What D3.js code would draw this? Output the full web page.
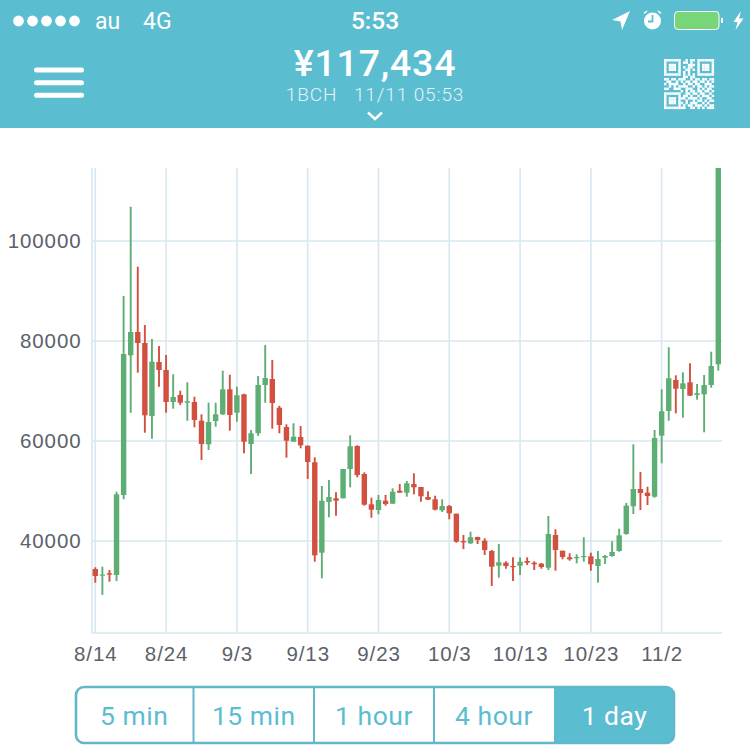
<!DOCTYPE html>
<html>
<head>
<meta charset="utf-8">
<script src="https://cdn.jsdelivr.net/npm/d3@7"></script>
<style>
  html, body { margin: 0; padding: 0; background: #fff; }
  svg { display: block; font-family: Roboto, sans-serif; }
  .axis path, .axis line { display: none; }
  .axis text { font-size: 20.5px; fill: #5b626a; letter-spacing: 0.9px; }
</style>
</head>
<body>
<svg id="chart" width="750" height="751"></svg>
<script>
// daily candles, 8/14 to 11/10
const startDay = '2017-08-14';
const endDay = '2017-11-10';

const opens = [
  34400,33100,33540,33200,49200,77140,81800,79600,65000,75800,
  74200,67800,69200,67660,67800,64060,59340,64000,65340,70340,
  65660,69340,59400,61540,71200,72400,66660,62800,59860,60800,
  59060,55740,37660,47800,48540,48540,54400,59000,53400,47340,
  46200,48060,47460,50060,49660,51400,50800,48800,48340,46140,
  47000,45460,40000,39540,40800,40060,38000,35060,35660,35000,
  35060,36000,35660,35460,34660,41200,38060,36740,36600,36800,
  36940,35000,36660,37000,38000,41400,46940,50400,49660,48860,
  61060,66000,72200,70400,71740,69200,69340,71200,75340
];
const closes = [
  33000,33300,33260,49340,77400,81800,79600,65140,75860,74200,
  67800,68800,67660,67940,64200,59400,63800,65340,70340,65200,
  69140,59860,61540,71200,72600,67600,63200,60060,60860,59140,
  55800,37140,48060,48800,48060,54400,58940,53200,47260,46260,
  48200,47400,49860,49660,51540,50740,48940,48260,46260,47000,
  45540,39860,39740,40740,40200,38200,34860,35740,35000,34900,
  35860,35660,35340,34800,41400,38200,36800,36340,36800,37000,
  35340,36400,37000,37800,41140,47060,50400,49600,49000,60600,
  65940,72540,70460,71540,69060,69540,71200,75000,117434
];
const highs = [
  34740,34860,34200,49860,89000,106860,94860,83200,80400,79000,
  77200,73340,70060,71740,68860,65340,67660,67660,74060,73260,
  70860,69460,62200,73000,79200,76200,67060,63340,63540,63000,
  59100,56740,51000,52200,49740,54400,61140,59140,53740,48660,
  49200,49200,50540,51400,52000,53540,50800,49940,49060,48340,
  47200,45460,41200,41860,40860,40540,38200,39400,35940,36740,
  36740,36740,35940,35600,45000,42340,38060,37540,37340,40740,
  37660,38000,37200,39940,42460,47600,59340,53800,50860,62200,
  70340,78740,73140,73740,75540,71400,73200,77860,117434
];
const lows = [
  31660,29200,31860,32000,48340,65660,73660,61660,60460,70860,
  65660,66460,67200,64060,62740,56200,58200,62860,65200,62060,
  63860,57540,53400,61000,67660,62460,61540,56660,59860,58540,
  52400,35860,32540,44740,45060,48540,50740,52740,47060,44660,
  45340,47060,47460,49660,48860,49340,47860,48200,46140,45800,
  44340,39660,38400,39400,39400,37200,31000,32660,34460,32000,
  33200,35200,34200,34460,34200,34060,36340,36060,35540,35860,
  34060,31660,35400,36860,37860,41260,45400,46200,47200,48660,
  55540,64060,65540,64660,69000,68260,61740,70660,74060
];

const xTicks = ['2017-08-14','2017-08-24','2017-09-03','2017-09-13','2017-09-23','2017-10-03','2017-10-13','2017-10-23','2017-11-02'];
const yTicks = [40000, 60000, 80000, 100000];
const buttonLabels = ['5 min', '15 min', '1 hour', '4 hour', '1 day'];

const headerBlue = '#5bbdd0';
const gridColor = '#d6e8f0';
const upColor = '#5cae74';
const downColor = '#d2503f';

const svg = d3.select('#chart');

// plot box
const plotLeft = 92, plotRight = 722, plotTop = 168, plotBottom = 633;

const parseDay = d3.utcParse('%Y-%m-%d');
const x = d3.scaleUtc()
  .domain([parseDay(startDay), parseDay(endDay)])
  .range([95.3, 718.3]);
const y = d3.scaleLinear()
  .domain([21600, 114600])
  .range([plotBottom, plotTop]);

const days = d3.utcDay.range(parseDay(startDay), d3.utcDay.offset(parseDay(endDay), 1));
const candles = days.map((day, i) => ({
  day, open: opens[i], close: closes[i], high: highs[i], low: lows[i]
}));

// grid
const grid = svg.append('g').attr('stroke', gridColor).attr('stroke-width', 1.6);
grid.selectAll('.h').data(yTicks).join('line')
  .attr('x1', plotLeft).attr('x2', plotRight)
  .attr('y1', d => y(d)).attr('y2', d => y(d));
grid.selectAll('.v').data(xTicks).join('line')
  .attr('x1', d => x(parseDay(d))).attr('x2', d => x(parseDay(d)))
  .attr('y1', plotTop).attr('y2', plotBottom);
grid.append('line').attr('x1', plotLeft).attr('x2', plotLeft).attr('y1', plotTop).attr('y2', plotBottom);
grid.append('line').attr('x1', plotLeft).attr('x2', plotRight).attr('y1', plotBottom).attr('y2', plotBottom);

// axes
svg.append('g').attr('class', 'axis')
  .attr('transform', `translate(0,${plotBottom})`)
  .call(d3.axisBottom(x).tickValues(xTicks.map(parseDay)).tickFormat(d3.utcFormat('%-m/%-d')).tickSize(0).tickPadding(13))
  .selectAll('text').attr('dy', '0.71em');
svg.append('g').attr('class', 'axis')
  .attr('transform', `translate(${plotLeft},0)`)
  .call(d3.axisLeft(y).tickValues(yTicks).tickFormat(d3.format('d')).tickSize(0).tickPadding(10.5));

// candles
svg.append('clipPath').attr('id', 'plot-clip').append('rect')
  .attr('x', plotLeft).attr('y', plotTop)
  .attr('width', plotRight - plotLeft).attr('height', plotBottom - plotTop);

const candle = svg.append('g').attr('clip-path', 'url(#plot-clip)')
  .selectAll('g').data(candles).join('g')
  .attr('fill', d => d.close >= d.open ? upColor : downColor)
  .attr('stroke', d => d.close >= d.open ? upColor : downColor);
candle.append('line')
  .attr('x1', d => x(d.day)).attr('x2', d => x(d.day))
  .attr('y1', d => y(d.high)).attr('y2', d => y(d.low))
  .attr('stroke-width', 1.9);
candle.append('rect')
  .attr('x', d => x(d.day) - 2.7)
  .attr('width', 5.4)
  .attr('y', d => y(Math.max(d.open, d.close)))
  .attr('height', d => Math.max(1.2, Math.abs(y(d.open) - y(d.close))))
  .attr('stroke', 'none');

// header band
const header = svg.append('g');
header.append('rect').attr('width', 750).attr('height', 128).attr('fill', headerBlue);

// status bar
header.selectAll('.dot').data(d3.range(5)).join('circle')
  .attr('cx', d => 18.5 + d * 14).attr('cy', 21).attr('r', 5.4).attr('fill', '#fff');

function label(text, px, py, size, weight, anchor, fill, spacing) {
  header.append('text').text(text)
    .attr('x', px).attr('y', py)
    .attr('font-size', size).attr('font-weight', weight || 400)
    .attr('text-anchor', anchor || 'start')
    .attr('fill', fill || '#fff')
    .attr('letter-spacing', spacing || 0);
}
label('au', 95, 29, 23, 400);
label('4G', 143, 29, 23, 400);
label('5:53', 375, 29, 24.5, 500, 'middle');
label('¥117,434', 375, 76, 37.5, 500, 'middle', '#fff', 0.8);
label('1BCH\u00a0\u00a0 11/11 05:53', 375, 101, 19, 300, 'middle', '#e3f3f7', 0.9);

// chevron under price
header.append('path').attr('d', 'M368 112.5 L375 119 L382 112.5')
  .attr('fill', 'none').attr('stroke', '#fff').attr('stroke-width', 2.4);

// menu icon
header.selectAll('.bar').data([70, 82.7, 95.3]).join('rect')
  .attr('x', 34).attr('y', d => d - 2.5).attr('width', 50).attr('height', 5).attr('rx', 2.5)
  .attr('fill', '#fff');

// status icons
header.append('path').attr('d', 'M612 20 L630 11 L622 30 L620.5 21.5 Z').attr('fill', '#fff');
header.append('circle').attr('cx', 652.5).attr('cy', 21).attr('r', 8.5).attr('fill', '#fff');
header.append('path').attr('d', 'M652.5 15 V21.5 H648').attr('fill', 'none').attr('stroke', headerBlue).attr('stroke-width', 1.8);
header.append('path').attr('d', 'M644 13.5 L647 11 M661 13.5 L658 11').attr('stroke', '#fff').attr('stroke-width', 1.6);
header.append('rect').attr('x', 674.5).attr('y', 11.5).attr('width', 44.5).attr('height', 18).attr('rx', 3.5)
  .attr('fill', '#78d678').attr('stroke', '#fff').attr('stroke-width', 1);
header.append('rect').attr('x', 721).attr('y', 18).attr('width', 2).attr('height', 5).attr('fill', '#fff');
header.append('path').attr('d', 'M741 11 L733.5 22 H737.5 L735.5 30 L743.5 18.5 H739 Z').attr('fill', '#fff');

// QR icon
const qrRows = [
  '111111100101101111111','100000101101001000001','101110100011101011101','101110101011001011101',
  '101110100110101011101','100000101010001000001','111111101010101111111','000000001101100000000',
  '110110111001011011011','011001010110110110101','101111001011011001110','001010111100101101011',
  '110011100111001010110','000000010101101101101','111111100110110110010','100000101101001011101',
  '101110111011110100110','101110100100101101011','101110110101110010100','100000101011011101011',
  '111111111001101010111'
];
const qrCell = 50 / qrRows.length;
const qrCells = qrRows.flatMap((row, r) => row.split('').map((c, k) => ({ r, k, on: c === '1' }))).filter(d => d.on);
header.append('g').attr('transform', 'translate(664,59)')
  .selectAll('rect').data(qrCells).join('rect')
  .attr('x', d => d.k * qrCell).attr('y', d => d.r * qrCell)
  .attr('width', qrCell + 0.1).attr('height', qrCell + 0.1)
  .attr('fill', '#fff');

// interval buttons
const buttonEdges = [75, 193.5, 314, 434, 554, 675];
const buttons = svg.append('g');
buttons.append('clipPath').attr('id', 'btn-clip').append('rect')
  .attr('x', 76).attr('y', 687).attr('width', 598).attr('height', 56).attr('rx', 8);
buttons.append('rect')
  .attr('x', buttonEdges[4]).attr('y', 687).attr('width', buttonEdges[5] - buttonEdges[4]).attr('height', 56)
  .attr('fill', headerBlue).attr('clip-path', 'url(#btn-clip)');
buttons.append('rect')
  .attr('x', 76).attr('y', 687).attr('width', 598).attr('height', 56).attr('rx', 8)
  .attr('fill', 'none').attr('stroke', '#62b8ca').attr('stroke-width', 2.6);
buttons.selectAll('line').data(buttonEdges.slice(1, 4)).join('line')
  .attr('x1', d => d).attr('x2', d => d).attr('y1', 687).attr('y2', 743)
  .attr('stroke', '#62b8ca').attr('stroke-width', 2);
buttons.selectAll('text').data(buttonLabels).join('text')
  .text(d => d)
  .attr('x', (d, i) => (buttonEdges[i] + buttonEdges[i + 1]) / 2)
  .attr('y', 725)
  .attr('text-anchor', 'middle')
  .attr('font-size', 26.5)
  .attr('letter-spacing', 0.5)
  .attr('font-weight', 400)
  .attr('fill', (d, i) => i === 4 ? '#fff' : headerBlue);
</script>
</body>
</html>
